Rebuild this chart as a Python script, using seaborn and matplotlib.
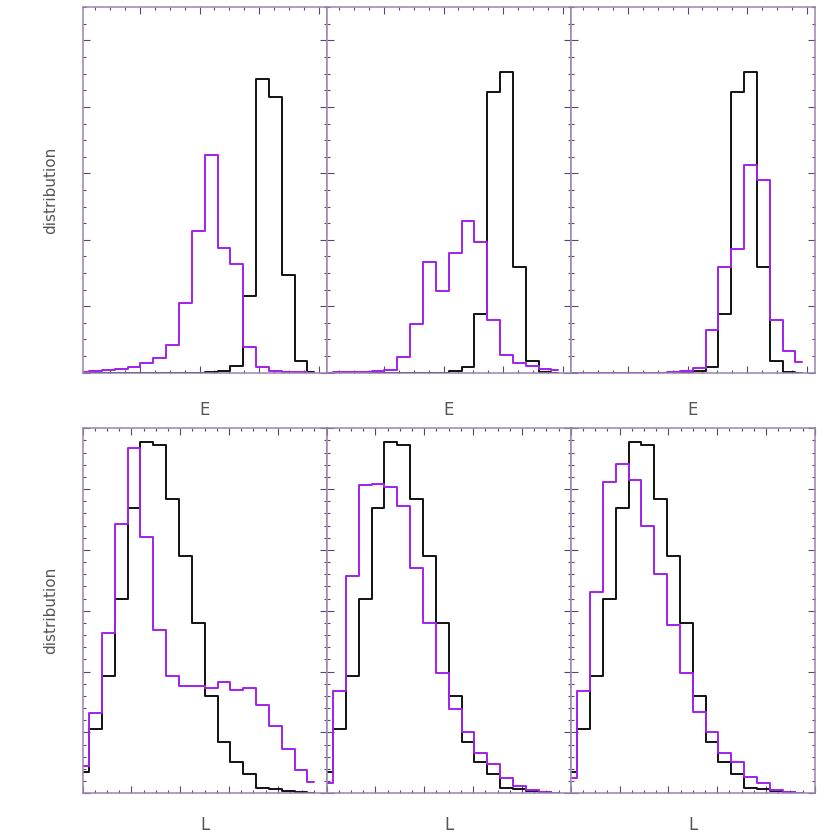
# Goal: E and L distributions, reference (black) vs sample (purple), 2x3 panels

import numpy as np
import pandas as pd
import seaborn as sns
import matplotlib.pyplot as plt
from matplotlib.ticker import MultipleLocator, NullFormatter

# bin centres (19 bins per panel)
e_centers = np.linspace(-0.963, -0.963 + 18 * 4.1 / 19, 19)
l_centers = np.linspace(0.0, 18 * 5.0 / 19, 19)

# top row: E distributions
e_black_1 = [0, 0, 0, 0, 0, 0, 0, 0, 0, 0, 0.01, 0.03, 0.105, 1.15, 4.42, 4.15, 1.47, 0.18, 0.01]
e_black_23 = [0, 0, 0, 0, 0, 0, 0, 0, 0, 0, 0.025, 0.085, 0.89, 4.22, 4.52, 1.59, 0.18, 0.01, 0]
e_purple_1 = [0.005, 0.02, 0.04, 0.055, 0.085, 0.145, 0.225, 0.41, 1.05, 2.14, 3.27,
              1.88, 1.64, 0.39, 0.08, 0.03, 0.015, 0.005, 0]
e_purple_2 = [0, 0.005, 0.01, 0.015, 0.025, 0.04, 0.24, 0.74, 1.66, 1.23, 1.80,
              2.29, 1.96, 0.80, 0.26, 0.15, 0.105, 0.05, 0.035]
e_purple_3 = [0, 0, 0, 0, 0, 0, 0, 0, 0.005, 0.02, 0.075, 0.64, 1.59, 1.86, 3.12,
              2.90, 0.79, 0.32, 0.165]

# bottom row: L distributions
l_black = [0.355, 1.06, 1.92, 3.19, 4.69, 5.78, 5.73, 4.83, 3.90, 2.80, 1.60,
           0.84, 0.52, 0.32, 0.093, 0.066, 0.038, 0.027, 0.011]
l_purple_1 = [0.45, 1.32, 2.63, 4.42, 5.67, 4.21, 2.69, 1.93, 1.76, 1.77, 1.73,
              1.83, 1.69, 1.73, 1.45, 1.11, 0.73, 0.39, 0.19]
l_purple_2 = [0.175, 1.68, 3.57, 5.06, 5.09, 5.04, 4.72, 3.70, 2.80, 1.97, 1.39,
              1.01, 0.67, 0.48, 0.25, 0.126, 0.055, 0.016, 0.005]
l_purple_3 = [0.25, 1.68, 3.31, 5.11, 5.42, 5.15, 4.39, 3.61, 2.77, 1.97, 1.33,
              1.00, 0.67, 0.52, 0.26, 0.164, 0.055, 0.016, 0.01]

top_purple = [e_purple_1, e_purple_2, e_purple_3]
top_black = [e_black_1, e_black_23, e_black_23]
bottom_purple = [l_purple_1, l_purple_2, l_purple_3]

sns.set_style("white")
plt.rcParams["font.family"] = ["DejaVu Sans"]

BLACK = "#111111"
PURPLE = "#a020f0"
SPINE = "#9a84b0"
TICK = "#5a4470"

fig = plt.figure(figsize=(8.3, 8.36), dpi=100)


def style_axis(ax, xmaj, ymaj, ymin):
    ax.xaxis.set_major_locator(MultipleLocator(xmaj))
    ax.xaxis.set_minor_locator(MultipleLocator(xmaj / 4))
    ax.yaxis.set_major_locator(MultipleLocator(ymaj))
    ax.yaxis.set_minor_locator(MultipleLocator(ymin))
    ax.xaxis.set_major_formatter(NullFormatter())
    ax.yaxis.set_major_formatter(NullFormatter())
    ax.tick_params(which="both", direction="in", top=True, right=True,
                   bottom=True, left=True, color=TICK, width=0.8)
    ax.tick_params(which="major", length=5)
    ax.tick_params(which="minor", length=2.5)
    for s in ax.spines.values():
        s.set_color(SPINE)
        s.set_linewidth(1.1)


for c in range(3):
    left = 0.0996 + c * 0.294

    # top row: E
    ax = fig.add_axes([left, 0.5542, 0.294, 0.4371])
    sns.lineplot(x=e_centers, y=top_black[c], ax=ax, color=BLACK, linewidth=1.4,
                 drawstyle="steps-mid", estimator=None, sort=False, legend=False)
    sns.lineplot(x=e_centers, y=top_purple[c], ax=ax, color=PURPLE, linewidth=1.4,
                 drawstyle="steps-mid", estimator=None, sort=False, legend=False)
    ax.set_xlim(-0.963, 3.137)
    ax.set_ylim(0, 5.5)
    style_axis(ax, 1.0, 1.0, 0.25)
    ax.set_xlabel("E", fontsize=12, color="#555555", labelpad=17)
    if c == 0:
        ax.set_ylabel("distribution", fontsize=11, color="#555555", labelpad=14)
    else:
        ax.set_ylabel("")

    # bottom row: L
    ax = fig.add_axes([left, 0.0511, 0.294, 0.4366])
    sns.lineplot(x=l_centers, y=l_black, ax=ax, color=BLACK, linewidth=1.4,
                 drawstyle="steps-mid", estimator=None, sort=False, legend=False)
    sns.lineplot(x=l_centers, y=bottom_purple[c], ax=ax, color=PURPLE, linewidth=1.4,
                 drawstyle="steps-mid", estimator=None, sort=False, legend=False)
    ax.set_xlim(0, 5)
    ax.set_ylim(0, 6)
    style_axis(ax, 1.0, 1.0, 0.2)
    ax.set_xlabel("L", fontsize=12, color="#555555", labelpad=13)
    if c == 0:
        ax.set_ylabel("distribution", fontsize=11, color="#555555", labelpad=14)
    else:
        ax.set_ylabel("")

fig.savefig("out.png", dpi=100)
